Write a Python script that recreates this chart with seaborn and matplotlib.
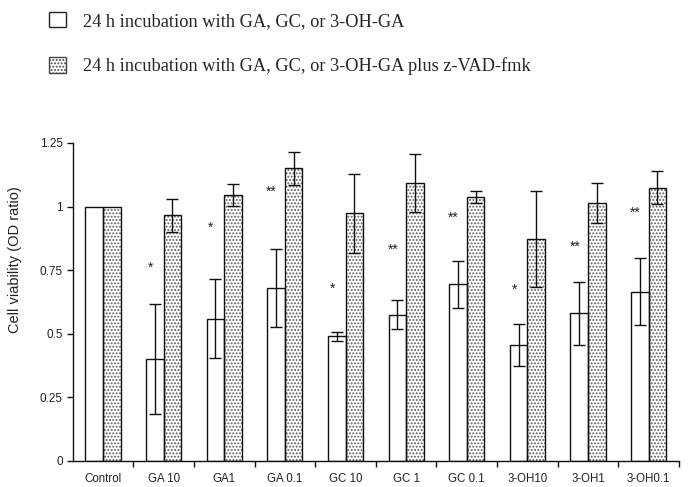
import matplotlib
matplotlib.use("Agg")
import matplotlib.pyplot as plt
from matplotlib.patches import Patch
import numpy as np
import pandas as pd
import seaborn as sns

# Cell viability data (OD ratio), mean and SD per treatment
categories = ["Control", "GA 10", "GA1", "GA 0.1", "GC 10", "GC 1", "GC 0.1",
              "3-OH10", "3-OH1", "3-OH0.1"]
plain_mean = [1.00, 0.40, 0.56, 0.68, 0.49, 0.575, 0.695, 0.455, 0.58, 0.665]
plain_err = [0.0, 0.216, 0.156, 0.155, 0.018, 0.058, 0.092, 0.083, 0.123, 0.131]
zvad_mean = [1.00, 0.965, 1.045, 1.15, 0.973, 1.092, 1.039, 0.873, 1.013, 1.075]
zvad_err = [0.0, 0.065, 0.044, 0.066, 0.154, 0.115, 0.023, 0.188, 0.078, 0.063]
sig_marks = ["", "*", "*", "**", "*", "**", "**", "*", "**", "**"]
sig_y = [None, 0.76, 0.917, 1.059, 0.676, 0.83, 0.956, 0.672, 0.842, 0.976]

series = ["24 h incubation with GA, GC, or 3-OH-GA",
          "24 h incubation with GA, GC, or 3-OH-GA plus z-VAD-fmk"]
y_ticks = [0, 0.25, 0.5, 0.75, 1, 1.25]
y_tick_labels = ["0", "0.25", "0.5", "0.75", "1", "1.25"]
y_label = "Cell viability (OD ratio)"

df = pd.DataFrame({
    "treatment": categories * 2,
    "condition": [series[0]] * len(categories) + [series[1]] * len(categories),
    "viability": plain_mean + zvad_mean,
    "sd": plain_err + zvad_err,
})

sns.set_theme(style="white")
plt.rcParams["font.family"] = ["Liberation Sans", "DejaVu Sans"]
plt.rcParams["hatch.linewidth"] = 0.9

fig = plt.figure(figsize=(6.89, 4.87), dpi=100)
ax = fig.add_axes([0.1055, 0.0534, 0.880, 0.653])

HATCH_GREY = "#5a5a5a"
INK = "#111111"

# hatched fill layer (grey dots), then outline layer in black
sns.barplot(data=df, x="treatment", y="viability", hue="condition",
            order=categories, hue_order=series, width=0.58,
            palette=["white", "white"], errorbar=None, legend=False,
            edgecolor=HATCH_GREY, linewidth=0, ax=ax)
n = len(categories)
for i, p in enumerate(ax.patches[:2 * n]):
    if i >= n:
        p.set_hatch(".....")
        p.set_edgecolor(HATCH_GREY)
    p.set_linewidth(0)

sns.barplot(data=df, x="treatment", y="viability", hue="condition",
            order=categories, hue_order=series, width=0.58,
            fill=False, errorbar=None, legend=False,
            edgecolor=INK, linewidth=1.0, ax=ax)

# error bars centred on each bar
outline = ax.patches[2 * n:4 * n]
for k, p in enumerate(outline):
    sd = df["sd"].iloc[k]
    if sd <= 0:
        continue
    cx = p.get_x() + p.get_width() / 2
    ax.errorbar(cx, df["viability"].iloc[k], yerr=sd, fmt="none",
                ecolor=INK, elinewidth=1.0, capsize=4, capthick=1.0,
                zorder=5)

# significance marks beside the plain-treatment bars
for i, (mark, y) in enumerate(zip(sig_marks, sig_y)):
    if mark:
        ax.text(i - 0.22, y, mark, ha="center", va="center",
                fontsize=10, color="#222222")

ax.set_xlim(-0.5, n - 0.5)
ax.set_ylim(0, 1.25)
ax.set_yticks(y_ticks)
ax.set_yticklabels(y_tick_labels, fontsize=8.5, color="#222222")
ax.set_xticks(np.arange(0.5, n, 1.0))
ax.set_xticklabels([])
ax.set_xticks(np.arange(n), minor=True)
ax.set_xticklabels(categories, minor=True, fontsize=8.3, color="#222222")
ax.tick_params(axis="x", which="major", direction="out", length=4,
               width=1, color=INK, bottom=True)
ax.tick_params(axis="x", which="minor", length=0, pad=9, bottom=True)
ax.tick_params(axis="y", direction="out", length=4, width=1,
               color=INK, left=True, pad=3)
ax.set_xlabel("")
ax.set_ylabel(y_label, fontsize=10.5, color="#222222")
ax.yaxis.set_label_coords(-0.084, 0.632)

for side in ["top", "right"]:
    ax.spines[side].set_visible(False)
for side in ["left", "bottom"]:
    ax.spines[side].set_color(INK)
    ax.spines[side].set_linewidth(1.0)

handles = [
    Patch(facecolor="white", edgecolor="#222222", linewidth=1.0),
    Patch(facecolor="white", edgecolor="#444444", linewidth=1.0, hatch="....."),
]
fig.legend(handles, series, loc="upper left",
           bbox_to_anchor=(49 / 689, 1 - 12 / 487),
           frameon=False, borderpad=0, borderaxespad=0,
           handlelength=0.9, handleheight=0.9,
           labelspacing=1.5, handletextpad=0.95,
           prop={"family": "Liberation Serif", "size": 13.2})

fig.savefig("out.png", dpi=100, facecolor="white")
